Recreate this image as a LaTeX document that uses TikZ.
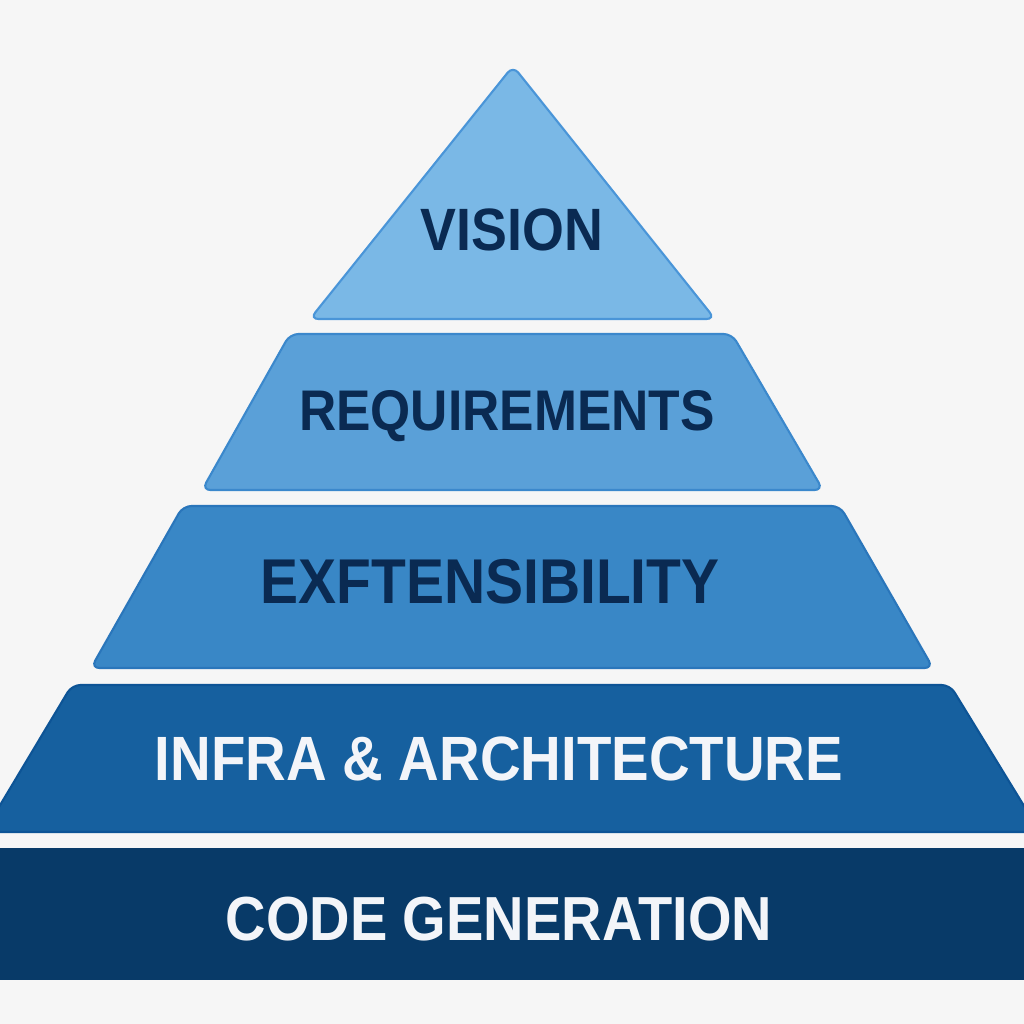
\documentclass[tikz,border=0pt]{standalone}
\usepackage{fontspec}
\setmainfont{Liberation Sans}
\newfontfamily\pyrfont[FakeStretch=0.9]{Liberation Sans}
\usetikzlibrary{calc}
\definecolor{pyr_bg}{RGB}{246, 246, 246}
\definecolor{pyr_a}{RGB}{122, 184, 230}
\definecolor{pyr_a_edge}{RGB}{74, 149, 216}
\definecolor{pyr_b}{RGB}{90, 160, 216}
\definecolor{pyr_b_edge}{RGB}{59, 136, 204}
\definecolor{pyr_c}{RGB}{57, 135, 198}
\definecolor{pyr_c_edge}{RGB}{42, 118, 187}
\definecolor{pyr_d}{RGB}{22, 96, 159}
\definecolor{pyr_d_edge}{RGB}{13, 84, 150}
\definecolor{pyr_e}{RGB}{8, 58, 104}
\definecolor{pyr_navy}{RGB}{10, 42, 82}
\definecolor{pyr_white}{RGB}{243, 245, 249}
\tikzstyle{layer}=[rounded corners=2.4pt,line width=0.6pt]
\tikzstyle{dk}=[text=pyr_navy,anchor=base,inner sep=0pt]
\tikzstyle{lt}=[text=pyr_white,anchor=base,inner sep=0pt]

\begin{document}
\begin{tikzpicture}[x=0.01cm,y=-0.01cm]
        \fill [pyr_bg] (0, 0) rectangle (1024, 1024);
        \useasboundingbox (0, 0) rectangle (1024, 1024);
        % layers, top to bottom
        \draw [style=layer, fill=pyr_a, draw=pyr_a_edge] (513, 66) -- (715, 319) -- (310, 319) -- cycle;
        \draw [style=layer, fill=pyr_b, draw=pyr_b_edge] (290, 334) -- (732, 334) -- (823, 490) -- (202, 490) -- cycle;
        \draw [style=layer, fill=pyr_c, draw=pyr_c_edge] (183, 506) -- (840, 506) -- (933, 668) -- (91, 668) -- cycle;
        \draw [style=layer, fill=pyr_d, draw=pyr_d_edge] (72, 685) -- (950, 685) -- (1040, 832) -- (-16, 832) -- cycle;
        \fill [pyr_e] (0, 848) rectangle (1024, 980);
        % labels
        \node [style=dk, font=\pyrfont\bfseries\fontsize{17}{20}\selectfont] (0) at (512, 250) {VISION};
        \node [style=dk, font=\pyrfont\bfseries\fontsize{16.3}{20}\selectfont] (1) at (507, 430) {REQUIREMENTS};
        \node [style=dk, font=\pyrfont\bfseries\fontsize{18}{20}\selectfont] (2) at (490, 603) {EXFTENSIBILITY};
        \node [style=lt, font=\pyrfont\bfseries\fontsize{17.8}{20}\selectfont] (3) at (499, 780) {INFRA \& ARCHITECTURE};
        \node [style=lt, font=\pyrfont\bfseries\fontsize{17.7}{20}\selectfont] (4) at (499, 940) {CODE GENERATION};
    \end{tikzpicture}
\end{document}
